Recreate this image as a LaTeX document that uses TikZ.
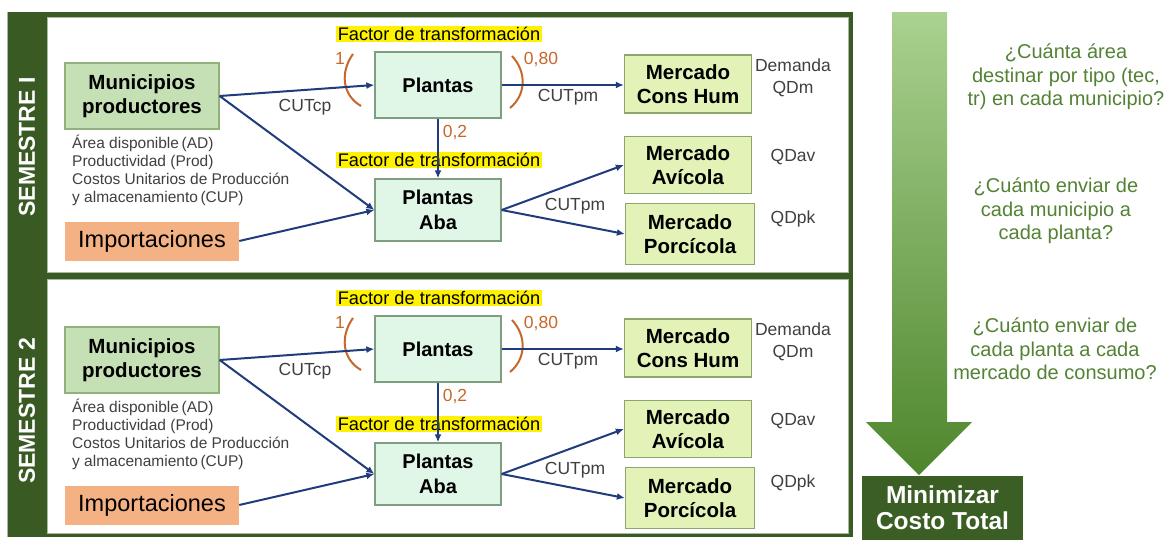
\documentclass[tikz,border=0pt]{standalone}
\usepackage{fontspec}
\setmainfont{Liberation Sans}
\usetikzlibrary{arrows.meta}

\definecolor{frameGreen}{HTML}{3A5A24}
\definecolor{frameEdge}{HTML}{A9B8A0}
\definecolor{muniFill}{HTML}{C5E0B4}
\definecolor{muniDraw}{HTML}{8FB27A}
\definecolor{plantFill}{HTML}{E0F7E8}
\definecolor{plantDraw}{HTML}{7F9E80}
\definecolor{mktFill}{HTML}{E3F3B8}
\definecolor{mktDraw}{HTML}{8EA570}
\definecolor{impFill}{HTML}{F4B183}
\definecolor{flowBlue}{HTML}{203C7C}
\definecolor{factorOrange}{HTML}{C8672A}
\definecolor{noteGray}{HTML}{404040}
\definecolor{questionGreen}{HTML}{548235}
\definecolor{arrowTop}{HTML}{AAD190}
\definecolor{arrowMid}{HTML}{70AD47}
\definecolor{arrowBottom}{HTML}{4E862C}
\definecolor{goalGreen}{HTML}{3B5E25}

\tikzset{
  box/.style={rectangle, align=center, inner sep=0pt, line width=1.3pt, text=black},
  muni/.style={box, fill=muniFill, draw=muniDraw, minimum width=154pt, minimum height=66pt,
    font=\bfseries\fontsize{20.5}{24}\selectfont},
  plant/.style={box, fill=plantFill, draw=plantDraw, minimum width=126pt,
    font=\bfseries\fontsize{20}{25}\selectfont},
  market/.style={box, fill=mktFill, draw=mktDraw, minimum width=127pt,
    font=\bfseries\fontsize{20.5}{24}\selectfont},
  imports/.style={rectangle, fill=impFill, minimum width=174pt, minimum height=39pt,
    inner sep=0pt, font=\fontsize{23.5}{26}\selectfont},
  factor/.style={fill=yellow, inner xsep=2pt, inner ysep=1.5pt, font=\fontsize{18.2}{20}\selectfont},
  desc/.style={align=left, inner sep=0pt, text=noteGray, font=\fontsize{15.5}{18}\selectfont},
  lbl/.style={align=center, inner sep=0pt, text=noteGray, font=\fontsize{17.5}{22}\selectfont},
  num/.style={inner sep=0pt, text=factorOrange, font=\fontsize{17.5}{20}\selectfont},
  factorArc/.style={draw=factorOrange, line width=2pt},
  flow/.style={draw=flowBlue, line width=2pt, -{Latex[length=8pt,width=7pt]}},
  semlabel/.style={rotate=90, text=white, inner sep=0pt, font=\bfseries\fontsize{23}{23}\selectfont},
  question/.style={align=center, inner sep=0pt, text=questionGreen, font=\fontsize{20}{23.5}\selectfont},
  goal/.style={rectangle, fill=goalGreen, minimum width=161pt, minimum height=64pt, inner sep=0pt,
    align=center, text=white, font=\bfseries\fontsize{24.5}{26}\selectfont},
}

\begin{document}
\begin{tikzpicture}[x=1pt, y=-1pt]
\useasboundingbox (0,0) rectangle (1171,539);
\fill[white] (0,0) rectangle (1171,539);

% frame of the two semesters
\fill[frameGreen] (8,12) rectangle (47,537);
\draw[frameEdge, line width=0.8pt] (7.5,12) -- (7.5,537);
\draw[frameEdge, line width=0.8pt] (47.5,17.5) rectangle (848.5,272.5);
\draw[frameEdge, line width=0.8pt] (47.5,279.5) rectangle (848.5,533.5);
\draw[frameGreen, line width=5pt] (45,14.5) -- (853,14.5);
\draw[frameGreen, line width=6pt] (45,276) -- (853,276);
\draw[frameGreen, line width=3pt] (45,535.5) -- (853,535.5);
\draw[frameGreen, line width=4pt] (851,12) -- (851,537);

\foreach \s/\off/\lab in {1/0/{SEMESTRE I}, 2/264/{SEMESTRE 2}} {
  \begin{scope}[yshift=-\off pt]
    \node[semlabel] (sem\s) at (27,147) {\lab};

    % highlighted factor captions (arrows run over them)
    \node[factor] (ftA\s) at (439,34) {Factor de transformación};
    \node[factor] (ftB\s) at (439,160) {Factor de transformación};

    % nodes
    \node[muni] (muni\s) at (142,96) {Municipios\\productores};
    \node[desc, anchor=north west] (data\s) at (72,135)
      {Área disponible\,(AD)\\Productividad (Prod)\\Costos Unitarios de Producción\\y almacenamiento\,(CUP)};
    \node[imports] (imp\s) at (152,241) {Importaciones};
    \node[plant, minimum height=66pt] (pl\s) at (438,85) {Plantas};
    \node[plant, minimum height=62pt] (aba\s) at (438,210) {Plantas\\Aba};
    \node[market, minimum height=58pt] (mch\s) at (688,84) {Mercado\\Cons Hum};
    \node[market, minimum height=57pt] (mav\s) at (688,165) {Mercado\\Avícola};
    \node[market, minimum height=61pt, minimum width=129pt] (mpk\s) at (690,234) {Mercado\\Porcícola};

    % labels
    \node[lbl] (dem\s) at (793,78) {Demanda\\QDm};
    \node[lbl] (qdav\s) at (793,157) {QDav};
    \node[lbl] (qdpk\s) at (793,219) {QDpk};
    \node[lbl] (cutcp\s) at (305,107) {CUTcp};
    \node[lbl] (cutpmA\s) at (568,97) {CUTpm};
    \node[lbl] (cutpmB\s) at (575,206) {CUTpm};
    \node[num] (one\s) at (340,58) {1};
    \node[num] (eighty\s) at (541,60) {0,80};
    \node[num] (two\s) at (455,133) {0,2};

    % transformation brackets
    \draw[factorArc] (353,54) .. controls (340,72) and (342,95) .. (361,106);
    \draw[factorArc] (512,56) .. controls (527,72) and (526,95) .. (510,108);

    % flows
    \draw[flow] (muni\s.east) -- (pl\s.west);
    \draw[flow] (muni\s.east) -- (aba\s.west);
    \draw[flow] (imp\s.east) -- (aba\s.west);
    \draw[flow] (pl\s.east) -- (pl\s.east -| mch\s.west);
    \draw[flow] (pl\s.south) -- (aba\s.north);
    \draw[flow] (aba\s.east) -- (mav\s.west);
    \draw[flow] (aba\s.east) -- (mpk\s.west);
  \end{scope}
}

% objective arrow
\shade[top color=arrowTop, middle color=arrowMid, bottom color=arrowBottom]
  (892,12) -- (947,12) -- (947,422) -- (972,422) -- (919,475) -- (866,422) -- (892,422) -- cycle;
\node[goal] (goal) at (942.5,508) {Minimizar\\Costo Total};

% decision questions
\node[question] (q1) at (1066,77) {¿Cuánta área\\destinar por tipo (tec,\\tr) en cada municipio?};
\node[question] (q2) at (1056,211) {¿Cuánto enviar de\\cada municipio a\\cada planta?};
\node[question] (q3) at (1055,349) {¿Cuánto enviar de\\cada planta a cada\\mercado de consumo?};
\end{tikzpicture}
\end{document}
